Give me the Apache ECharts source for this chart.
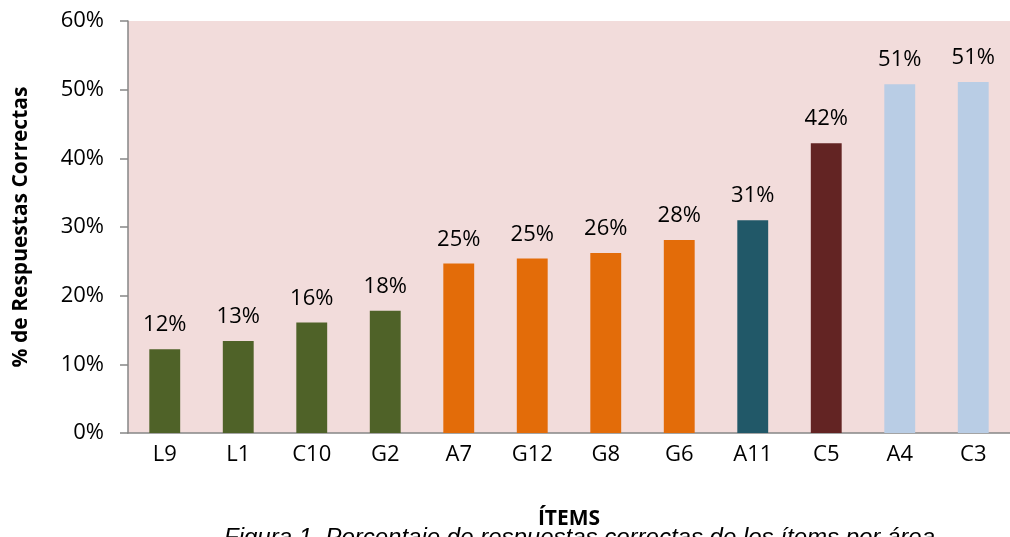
<!DOCTYPE html>
<html style="height: 100%">
<head>
  <meta charset="utf-8">
  <title>Respuestas correctas</title>
</head>
<body style="height: 100%; width: 100%; margin: 0; background: #fff">
  <div id="container" style="height: 537px; width: 1010px"></div>
  <script type="text/javascript" src="https://cdn.jsdelivr.net/npm/echarts@6/dist/echarts.min.js"></script>
  <script type="text/javascript">
var items = ['L9', 'L1', 'C10', 'G2', 'A7', 'G12', 'G8', 'G6', 'A11', 'C5', 'A4', 'C3'];
var pct = [12.2, 13.4, 16.1, 17.8, 24.7, 25.4, 26.2, 28.1, 31.0, 42.2, 50.8, 51.1];
var barColors = ['#4F6228', '#4F6228', '#4F6228', '#4F6228', '#E36C09', '#E36C09',
                 '#E36C09', '#E36C09', '#215868', '#632423', '#B9CDE5', '#B9CDE5'];

var font = 'Open Sans';
var myChart = echarts.init(document.getElementById('container'));

var option = {
    animation: false,
    grid: { left: 128, right: 0, top: 21, bottom: 104, backgroundColor: '#F2DCDB', show: true, borderWidth: 0 },
    xAxis: {
        type: 'category',
        data: items,
        name: 'ÍTEMS',
        nameLocation: 'middle',
        nameGap: 76,
        nameTextStyle: { fontFamily: font, fontWeight: 'bold', fontSize: 21, color: '#000' },
        axisLine: { lineStyle: { color: '#868686', width: 1.5 } },
        axisTick: { length: 7, lineStyle: { color: '#868686', width: 1.5 } },
        axisLabel: { fontFamily: font, fontSize: 22, color: '#000', margin: 11 }
    },
    yAxis: {
        type: 'value',
        min: 0,
        max: 60,
        interval: 10,
        name: '% de Respuestas Correctas',
        nameLocation: 'middle',
        nameGap: 96,
        nameTextStyle: { fontFamily: font, fontWeight: 'bold', fontSize: 21, color: '#000' },
        splitLine: { show: false },
        axisLine: { show: true, lineStyle: { color: '#868686', width: 1.5 } },
        axisTick: { show: true, length: 8, lineStyle: { color: '#868686', width: 1.5 } },
        axisLabel: { fontFamily: font, fontSize: 22, color: '#000', margin: 24, formatter: '{value}%' }
    },
    series: [{
        type: 'bar',
        barWidth: '42%',
        data: pct.map(function (v, i) {
            return { value: v, itemStyle: { color: barColors[i] } };
        }),
        label: {
            show: true,
            position: 'top',
            distance: 13,
            fontFamily: font,
            fontSize: 22,
            color: '#000',
            formatter: function (p) { return Math.round(p.value) + '%'; }
        }
    }],
    graphic: [{
        type: 'text',
        left: 224,
        top: 526,
        style: {
            text: 'Figura 1. Porcentaje de respuestas correctas de los ítems por área',
            font: 'italic 24px "Liberation Sans"',
            fill: '#000'
        }
    }]
};

myChart.setOption(option);
  </script>
</body>
</html>
